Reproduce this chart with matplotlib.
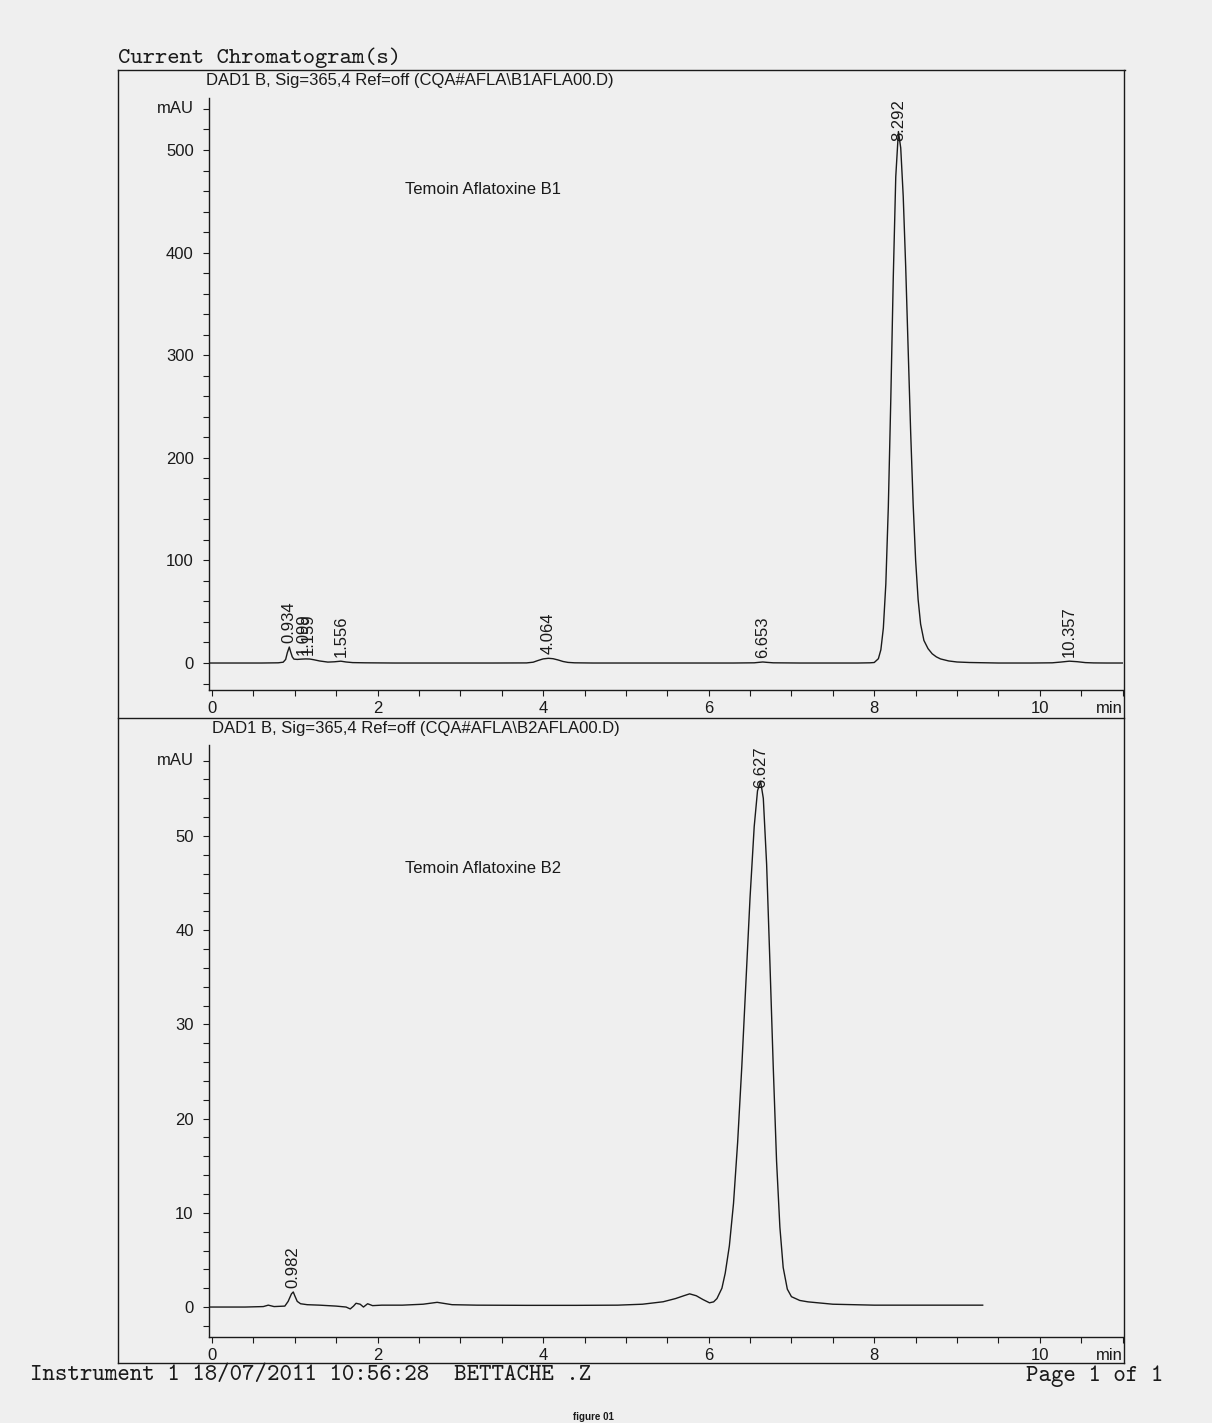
import matplotlib
matplotlib.use("Agg")
import matplotlib.pyplot as plt
from matplotlib.lines import Line2D
from matplotlib.ticker import MultipleLocator

plt.rcParams['font.family'] = ['Liberation Sans', 'DejaVu Sans']

# --- data -----------------------------------------------------------------
# B1 standard (top trace), time in min, signal in mAU
b1_time = [-0.04, 0.30, 0.60, 0.80,
           0.86, 0.89, 0.91, 0.934, 0.95, 0.97, 0.99, 1.03, 1.08, 1.13, 1.18, 1.23,
           1.30, 1.40, 1.48, 1.556, 1.62, 1.70, 1.85,
           2.20, 2.80, 3.40, 3.80,
           3.88, 3.94, 4.00, 4.064, 4.12, 4.18, 4.24, 4.30, 4.38, 4.60,
           5.20, 5.80, 6.30, 6.55, 6.60, 6.653, 6.71, 6.78, 7.10, 7.50, 7.80,
           7.95, 8.00, 8.05, 8.08, 8.11, 8.14, 8.17, 8.20, 8.23, 8.26, 8.292,
           8.32, 8.35, 8.38, 8.41, 8.44, 8.47, 8.50, 8.53, 8.56, 8.60, 8.65,
           8.70, 8.75, 8.80, 8.90, 9.00, 9.15,
           9.50, 9.90, 10.15, 10.25, 10.357, 10.45, 10.55, 10.65, 10.80, 11.00]
b1_signal = [0, 0, 0, 0.2,
             0.8, 3.5, 10.0, 15.6, 11.0, 6.0, 3.8, 3.5, 3.8, 4.0, 3.9, 3.2,
             2.0, 0.9, 1.2, 1.8, 1.0, 0.4, 0.2,
             0, 0, 0, 0.1,
             0.8, 2.5, 4.0, 4.6, 4.2, 3.0, 1.5, 0.6, 0.2, 0,
             0, 0, 0, 0.2, 0.6, 1.0, 0.6, 0.2, 0, 0, 0,
             0.2, 0.5, 4.2, 12.9, 34, 77, 152, 257, 376, 474, 518,
             502, 455, 386, 305, 225, 155, 100, 62, 38, 22, 14,
             9, 6, 4, 2, 1, 0.5,
             0, 0, 0.2, 0.9, 1.8, 1.3, 0.4, 0.1, 0, 0]
b1_peak_rt = [0.934, 1.099, 1.159, 1.556, 4.064, 6.653, 8.292, 10.357]
b1_peak_height = [15.6, 4.0, 4.0, 1.8, 4.6, 1.0, 518, 1.8]

# B2 standard (bottom trace)
b2_time = [-0.04, 0.40, 0.62, 0.68, 0.75, 0.88, 0.92, 0.96, 0.982, 1.00,
           1.03, 1.07, 1.15, 1.30, 1.50, 1.62, 1.67, 1.71, 1.74, 1.79,
           1.83, 1.88, 1.94, 2.05, 2.30, 2.55, 2.72, 2.90, 3.20, 3.80,
           4.40, 4.90, 5.20, 5.45, 5.60, 5.70, 5.77, 5.85, 5.93, 6.01,
           6.06, 6.10, 6.16, 6.20, 6.25, 6.30, 6.35, 6.40, 6.45, 6.50,
           6.55, 6.59, 6.627, 6.66, 6.70, 6.74, 6.78, 6.82, 6.86, 6.90,
           6.95, 7.00, 7.10, 7.20, 7.50, 8.00, 8.60, 9.31]
b2_signal = [0, 0, 0.05, 0.2, 0.05, 0.1, 0.6, 1.4, 1.6, 1.2,
             0.6, 0.35, 0.25, 0.2, 0.1, 0.0, -0.2, 0.1, 0.4, 0.3,
             0.0, 0.35, 0.15, 0.2, 0.2, 0.3, 0.5, 0.25, 0.2, 0.18,
             0.18, 0.2, 0.3, 0.56, 0.9, 1.2, 1.4, 1.2, 0.8, 0.45,
             0.55, 0.9, 2.0, 3.6, 6.5, 11.0, 17.5, 25.5, 34.5, 43.5,
             51.0, 54.8, 55.8, 54.0, 47.0, 36.5, 25.5, 15.5, 8.5, 4.2,
             1.9, 1.1, 0.7, 0.55, 0.3, 0.2, 0.2, 0.2]
b2_peak_rt = [0.982, 6.627]
b2_peak_height = [1.6, 55.8]

header_top = "DAD1 B, Sig=365,4 Ref=off (CQA#AFLA\\B1AFLA00.D)"
header_bot = "DAD1 B, Sig=365,4 Ref=off (CQA#AFLA\\B2AFLA00.D)"
title_top = "Temoin Aflatoxine B1"
title_bot = "Temoin Aflatoxine B2"

assert len(b1_time) == len(b1_signal)
assert len(b2_time) == len(b2_signal)

# --- page layout (pixel based, 1212 x 1423) --------------------------------
W, H = 1212, 1423
PAPER = '#efefef'
INK = '#1a1a1a'
MONO = ['cmtt10', 'Liberation Mono', 'DejaVu Sans Mono']
FS = 12


def fx(px):
    return px / W


def fy(py):
    return 1 - py / H


fig = plt.figure(figsize=(W / 100, H / 100), dpi=100, facecolor=PAPER)


def make_axes(top_px, bottom_px, ylim, major, minor, mau_y):
    ax = fig.add_axes([fx(209), fy(bottom_px), (1123 - 209) / W, (bottom_px - top_px) / H])
    ax.set_facecolor('none')
    ax.set_xlim(-0.036, 11.005)
    ax.set_ylim(*ylim)
    for s in ['top', 'right']:
        ax.spines[s].set_visible(False)
    for s in ['left', 'bottom']:
        ax.spines[s].set_linewidth(1.0)
        ax.spines[s].set_color(INK)
    ax.xaxis.set_major_locator(MultipleLocator(2))
    ax.xaxis.set_minor_locator(MultipleLocator(0.5))
    ax.yaxis.set_major_locator(MultipleLocator(major))
    ax.yaxis.set_minor_locator(MultipleLocator(minor))
    ax.tick_params(which='both', direction='out', length=4.5, width=0.8,
                   color=INK, labelcolor=INK, labelsize=FS)
    ax.tick_params(axis='x', pad=3.5)
    ax.tick_params(axis='y', pad=6.5)
    ax.annotate('min', xy=(1, 0), xycoords='axes fraction', xytext=(0, -8),
                textcoords='offset points', ha='right', va='top', fontsize=FS, color=INK)
    ax.annotate('mAU', xy=(0, mau_y), xycoords=('axes fraction', 'data'), xytext=(-11, 0),
                textcoords='offset points', ha='right', va='center', fontsize=FS, color=INK)
    return ax


ax1 = make_axes(98, 690, (-26.3, 550.7), 100, 20, 540)
ax2 = make_axes(745, 1337, (-3.18, 59.66), 10, 2, 58)

ax1.plot(b1_time, b1_signal, color=INK, lw=1.0)
ax2.plot(b2_time, b2_signal, color=INK, lw=1.0)

labels = []
for ax, rts, hts in [(ax1, b1_peak_rt, b1_peak_height), (ax2, b2_peak_rt, b2_peak_height)]:
    for rt, h in zip(rts, hts):
        t = ax.annotate(f"{rt:.3f}", xy=(rt, h), xytext=(0, 3), textcoords='offset points',
                        rotation=90, ha='center', va='bottom', fontsize=FS, color=INK)
        labels.append((ax, t))

# labels that run past the top of the plot are pushed down, as the printer does
fig.canvas.draw()
r = fig.canvas.get_renderer()
for ax, t in labels:
    if t.get_window_extent(r).y1 > ax.get_window_extent(r).y1:
        t.xy = (t.xy[0], ax.get_ylim()[1])
        t.xyann = (0, -1)
        t.set_va('top')

fig.text(fx(405), fy(189), title_top, fontsize=FS, color=INK, ha='left', va='center')
fig.text(fx(405), fy(869), title_bot, fontsize=FS, color=INK, ha='left', va='center')

# page frame
for xs, ys in [((118, 1125), (70, 70)), ((118, 118), (70, 1363)), ((1124, 1124), (70, 1363)),
               ((118, 1124), (718, 718)), ((118, 1124), (1363, 1363))]:
    fig.add_artist(Line2D([fx(x) for x in xs], [fy(y) for y in ys], color=INK, lw=1.0))

fig.text(fx(118), fy(58), "Current Chromatogram(s)", family=MONO, fontsize=16.9,
         color=INK, ha='left', va='center')
fig.text(fx(206), fy(81), header_top, fontsize=FS, color=INK, ha='left', va='center')
fig.text(fx(212), fy(728), header_bot, fontsize=FS, color=INK, ha='left', va='center')
fig.text(fx(30), fy(1376), "Instrument 1 18/07/2011 10:56:28  BETTACHE .Z", family=MONO,
         fontsize=17.1, color=INK, ha='left', va='center')
fig.text(fx(1026), fy(1376), "Page 1 of 1", family=MONO, fontsize=17.1,
         color=INK, ha='left', va='center')
fig.text(fx(593), fy(1417), "figure 01", fontsize=7, fontweight='bold',
         color=INK, ha='center', va='center')

fig.savefig('out.png', dpi=100, facecolor=PAPER)
